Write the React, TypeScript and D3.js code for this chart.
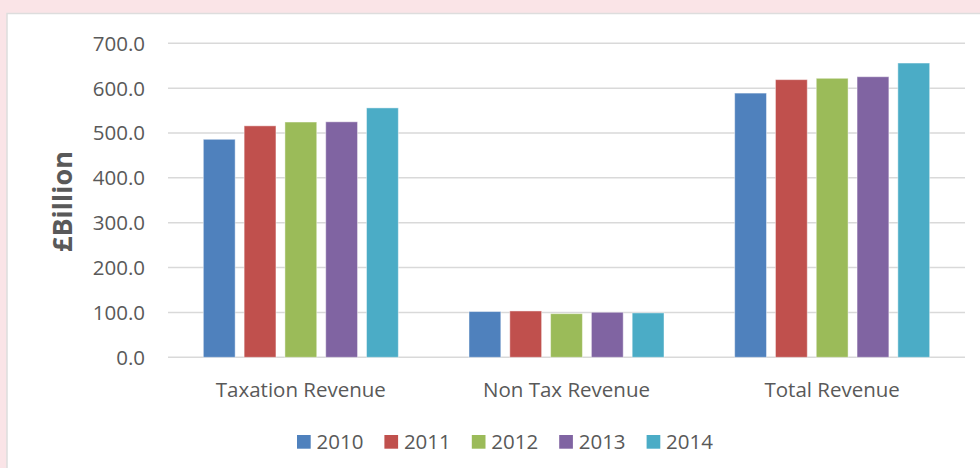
import { useEffect, useRef } from 'react';
import * as d3 from 'd3';

const categories = ['Taxation Revenue', 'Non Tax Revenue', 'Total Revenue'];
const years = ['2010', '2011', '2012', '2013', '2014'];
const taxation = [486, 516, 524.5, 525, 556];
const nonTax = [102, 103.3, 97.3, 100.4, 99];
const total = [589, 619, 622, 625.5, 656];
const yTicks = [0, 100, 200, 300, 400, 500, 600, 700];
const colors = ['#4F81BD', '#C0504D', '#9BBB59', '#8064A2', '#4BACC6'];

const W = 980;
const H = 468;
const FONT = '"Open Sans", "Liberation Sans", sans-serif';

export default function App() {
  const ref = useRef<SVGSVGElement>(null);

  useEffect(() => {
    const svg = d3.select(ref.current);
    svg.selectAll('*').remove();

    const series = [taxation, nonTax, total];

    // page background + white chart panel
    svg.append('rect').attr('width', W).attr('height', H).attr('fill', '#fae4e7');
    svg.append('rect')
      .attr('x', 7).attr('y', 13.5).attr('width', W).attr('height', H)
      .attr('fill', '#fff').attr('stroke', '#ddd').attr('stroke-width', 1.5);

    const left = 168, right = 965, top = 43.3, bottom = 357.3;

    const y = d3.scaleLinear().domain([0, 700]).range([bottom, top]);
    const x0 = d3.scaleBand().domain(categories).range([left, right]);
    const x1 = d3.scaleBand().domain(years)
      .range([0, x0.bandwidth()])
      .paddingInner(0.22).paddingOuter(0.866);

    // gridlines
    svg.append('g').selectAll('line')
      .data(yTicks).enter().append('line')
      .attr('x1', left).attr('x2', right)
      .attr('y1', d => y(d)).attr('y2', d => y(d))
      .attr('stroke', '#d9d9d9').attr('stroke-width', 1.5);

    // y tick labels
    svg.append('g').selectAll('text')
      .data(yTicks).enter().append('text')
      .attr('x', 145).attr('y', d => y(d))
      .attr('dy', '0.36em')
      .attr('text-anchor', 'end')
      .style('font-family', FONT).style('font-size', '20.5px').style('fill', '#595959')
      .text(d => d.toFixed(1));

    // bars
    categories.forEach((c, ci) => {
      const g = svg.append('g').attr('transform', `translate(${x0(c)},0)`);
      g.selectAll('rect')
        .data(series[ci]).enter().append('rect')
        .attr('x', (_, i) => x1(years[i])!)
        .attr('width', x1.bandwidth())
        .attr('y', d => y(d))
        .attr('height', d => y(0) - y(d))
        .attr('fill', (_, i) => colors[i])
        .attr('stroke', '#fff').attr('stroke-opacity', 0.45).attr('stroke-width', 1);
    });

    // category labels
    svg.append('g').selectAll('text')
      .data(categories).enter().append('text')
      .attr('x', d => x0(d)! + x0.bandwidth() / 2)
      .attr('y', 397)
      .attr('text-anchor', 'middle')
      .style('font-family', FONT).style('font-size', '20.5px').style('fill', '#595959')
      .text(d => d);

    // y axis title
    svg.append('text')
      .attr('transform', 'translate(72,201.5) rotate(-90)')
      .attr('text-anchor', 'middle')
      .style('font-family', FONT).style('font-size', '27px')
      .style('font-weight', '700').style('fill', '#595959')
      .text('£Billion');

    // legend
    const legend = svg.append('g').attr('transform', 'translate(297,435)');
    years.forEach((yr, i) => {
      const g = legend.append('g').attr('transform', `translate(${i * 87.4},0)`);
      g.append('rect').attr('width', 13.7).attr('height', 13.7).attr('fill', colors[i]);
      g.append('text').attr('x', 19.5).attr('y', 14)
        .style('font-family', FONT).style('font-size', '20.5px').style('fill', '#595959')
        .text(yr);
    });
  }, []);

  return (
    <svg ref={ref} width={W} height={H}
      style={{ position: 'absolute', left: 0, top: 0, display: 'block' }} />
  );
}
